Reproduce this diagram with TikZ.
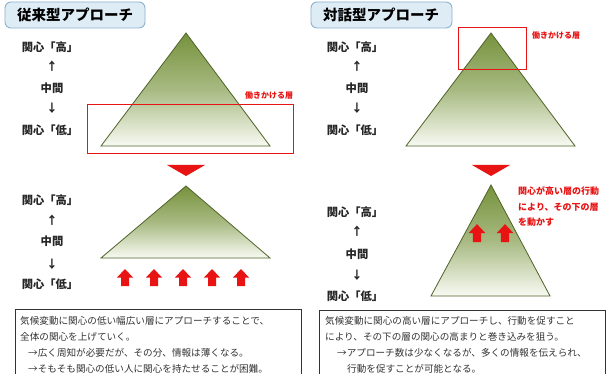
\documentclass[tikz,border=0pt]{standalone}
\usepackage{fontspec}
\newfontfamily\jp{Noto Sans CJK JP}
\tikzset{
  titlebox/.style={draw=titleborder,fill=titlefill,rounded corners=6pt,line width=0.9pt},
  titletext/.style={font=\jp\bfseries\fontsize{14.5}{16}\selectfont,inner sep=0},
  lvl/.style={font=\jp\bfseries\fontsize{11.3}{12}\selectfont,inner sep=0,text=black!85},
  pyr/.style={draw=pyrborder,line width=0.8pt,top color=pyrtop,bottom color=pyrbot,middle color=pyrtop!62!pyrbot},
  redbox/.style={draw=redc,line width=1pt},
  redlbl/.style={font=\jp\bfseries\fontsize{8}{9}\selectfont,text=redc,inner sep=0,anchor=west},
  redlbl2/.style={font=\jp\bfseries\fontsize{9}{10}\selectfont,text=redc,inner sep=0,anchor=west},
  descbox/.style={draw=black!80,line width=0.8pt,fill=white},
  desc/.style={font=\jp\fontsize{9.6}{11}\selectfont,inner sep=0,anchor=west,text=black!80},
  uparr/.pic={\fill[redc] (-4,0) -- (-4,-8.5) -- (-8,-8.5) -- (0,-17) -- (8,-8.5) -- (4,-8.5) -- (4,0) -- cycle;}
}
\definecolor{titlefill}{RGB}{222,236,245}
\definecolor{titleborder}{RGB}{140,178,205}
\definecolor{pyrtop}{RGB}{118,146,60}
\definecolor{pyrbot}{RGB}{248,250,243}
\definecolor{pyrborder}{RGB}{79,98,40}
\definecolor{redc}{RGB}{232,20,20}
\begin{document}
\begin{tikzpicture}[x=1pt,y=-1pt]
\clip (0,0) rectangle (610,374);
\fill[white] (0,0) rectangle (610,374);
% ===== Left panel =====
\draw[titlebox] (5,2) rectangle (145,28);
\node[titletext] (t1) at (75,15) {従来型アプローチ};
\node[lvl] (l1h) at (50,47) {関心「高」};
\node[lvl] (l1u) at (52,66) {↑};
\node[lvl] (l1m) at (52,88) {中間};
\node[lvl] (l1d) at (52,108) {↓};
\node[lvl] (l1l) at (50,130) {関心「低」};
\draw[pyr] (186,33) -- (270,146) -- (101,146) -- cycle;
\draw[redbox] (87,105) rectangle (293,154);
\node[redlbl] (w1) at (245,95) {働きかける層};
\fill[redc] (167,165) -- (205,165) -- (186,176) -- cycle;
\draw[pyr] (186,186) -- (270,258) -- (101,258) -- cycle;
\node[lvl] (l2h) at (50,200) {関心「高」};
\node[lvl] (l2u) at (52,220) {↑};
\node[lvl] (l2m) at (52,241) {中間};
\node[lvl] (l2d) at (52,264) {↓};
\node[lvl] (l2l) at (50,284) {関心「低」};
\foreach \cx in {125,154,183,212,241} \pic at (\cx,286) {uparr};
\draw[descbox] (15,309) rectangle (301,380);
\node[desc] (d1a) at (20,321) {気候変動に関心の低い幅広い層にアプローチすることで、};
\node[desc] (d1b) at (20,337) {全体の関心を上げていく。};
\node[desc] (d1c) at (28,353) {→広く周知が必要だが、その分、情報は薄くなる。};
\node[desc] (d1d) at (28,369) {→そもそも関心の低い人に関心を持たせることが困難。};
% ===== Right panel =====
\draw[titlebox] (311,2) rectangle (452,28);
\node[titletext] (t2) at (381,15) {対話型アプローチ};
\node[lvl] (r1h) at (355,47) {関心「高」};
\node[lvl] (r1u) at (357,66) {↑};
\node[lvl] (r1m) at (357,88) {中間};
\node[lvl] (r1d) at (357,108) {↓};
\node[lvl] (r1l) at (355,130) {関心「低」};
\draw[pyr] (491,33) -- (575,146) -- (406,146) -- cycle;
\draw[redbox] (458,28) rectangle (526,70);
\node[redlbl] (w2) at (532,35) {働きかける層};
\fill[redc] (472,165) -- (510,165) -- (491,176) -- cycle;
\draw[pyr] (491,185) -- (550,296) -- (431,296) -- cycle;
\node[redlbl2] (n1) at (518,191) {関心が高い層の行動};
\node[redlbl2] (n2) at (518,207) {により、その下の層};
\node[redlbl2] (n3) at (518,222) {を動かす};
\foreach \cx in {477,505} \pic[scale=1.05] at (\cx,242) {uparr};
\node[lvl] (r2h) at (355,212) {関心「高」};
\node[lvl] (r2u) at (357,231) {↑};
\node[lvl] (r2m) at (357,254) {中間};
\node[lvl] (r2d) at (357,275) {↓};
\node[lvl] (r2l) at (355,296) {関心「低」};
\draw[descbox] (319,310) rectangle (605,380);
\node[desc] (d2a) at (325,321) {気候変動に関心の高い層にアプローチし、行動を促すこと};
\node[desc] (d2b) at (325,337) {により、その下の層の関心の高まりと巻き込みを狙う。};
\node[desc] (d2c) at (337,353) {→アプローチ数は少なくなるが、多くの情報を伝えられ、};
\node[desc] (d2d) at (347,369) {行動を促すことが可能となる。};
\end{tikzpicture}
\end{document}
